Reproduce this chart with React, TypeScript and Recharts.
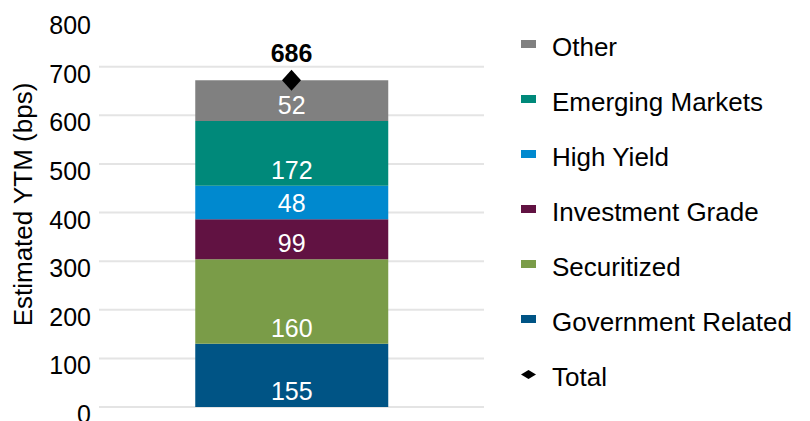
import React from 'react';
import { Bar, CartesianGrid, ComposedChart, LabelList, Legend, Line, XAxis, YAxis } from 'recharts';

const FONT = '"Liberation Sans", Arial, sans-serif';

// one stacked column; series listed bottom to top
const categories = ['Estimated YTM'];
const seriesNames = ['Government Related', 'Securitized', 'Investment Grade', 'High Yield', 'Emerging Markets', 'Other'];
const seriesColors = ['#005485', '#7a9c48', '#611242', '#0089cf', '#00897a', '#808080'];
// segment heights as drawn in the picture (bps)
const segmentHeights = [130, 174, 82, 69, 133, 84];
// numbers printed on the segments
const segmentLabels = [155, 160, 99, 48, 172, 52];
const totalHeight = [672];
const totalLabel = [686];
const yTicks = [0, 100, 200, 300, 400, 500, 600, 700, 800];
const gridTicks = [0, 100, 200, 300, 400, 500, 600, 700];

const data = categories.map((name, c) => {
  const row: Record<string, string | number> = { name, total: totalHeight[c], totalLabel: totalLabel[c] };
  seriesNames.forEach((_, i) => {
    row[`s${i}`] = segmentHeights[i];
    row[`l${i}`] = segmentLabels[i];
  });
  return row;
});

const renderYTick = (p: any) => (
  <text x={p.x} y={p.y + 16} textAnchor="end" fill="#000" fontSize={25} fontFamily={FONT}>
    {p.payload.value}
  </text>
);

const renderYTitle = (p: any) => {
  const vb = p.viewBox || { y: 18, height: 389 };
  const cy = vb.y + vb.height / 2 - 8;
  return (
    <text x={32} y={cy} transform={`rotate(-90 32 ${cy})`} textAnchor="middle" fill="#000" fontSize={26} fontFamily={FONT}>
      Estimated YTM (bps)
    </text>
  );
};

const renderSegmentLabel = (p: any) => (
  <text x={p.x + p.width / 2} y={p.y + p.height - 7} textAnchor="middle" fill="#fff" fontSize={25} fontFamily={FONT}>
    {p.value}
  </text>
);

const renderTotalLabel = (p: any) => (
  <text x={p.x} y={p.y - 18} textAnchor="middle" fill="#000" fontSize={25} fontWeight="bold" fontFamily={FONT}>
    {p.value}
  </text>
);

const Diamond = (p: any) => {
  if (p.cx == null || p.cy == null) return null;
  const { cx, cy } = p;
  return <polygon key={p.key} points={`${cx},${cy - 10.5} ${cx + 9.5},${cy} ${cx},${cy + 10.5} ${cx - 9.5},${cy}`} fill="#000" />;
};

const legendItems = [
  ...seriesNames.map((name, i) => ({ name, color: seriesColors[i], diamond: false })).reverse(),
  { name: 'Total', color: '#000', diamond: true },
];

const LegendContent = () => (
  <div style={{ fontFamily: FONT, fontSize: 26, color: '#000' }}>
    {legendItems.map((it) => (
      <div key={it.name} style={{ position: 'relative', height: 55, lineHeight: '55px', paddingLeft: 31, whiteSpace: 'nowrap' }}>
        {it.diamond ? (
          <svg width={15} height={9} style={{ position: 'absolute', left: 0, top: 20 }}>
            <polygon points="7.5,0 15,4.5 7.5,9 0,4.5" fill="#000" />
          </svg>
        ) : (
          <span style={{ position: 'absolute', left: 0, top: 20, width: 15, height: 8, background: it.color }} />
        )}
        {it.name}
      </div>
    ))}
  </div>
);

export default function App() {
  return (
    <div style={{ position: 'absolute', left: 0, top: 0, width: 810, height: 421, background: '#fff' }}>
      <ComposedChart
        width={810}
        height={421}
        data={data}
        margin={{ top: 18, right: 326, bottom: 14, left: 0 }}
        barCategoryGap="25%"
      >
        <CartesianGrid
          vertical={false}
          stroke="#e4e4e4"
          strokeWidth={2}
          horizontalCoordinatesGenerator={({ yAxis, offset }: any) =>
            typeof yAxis?.scale === 'function'
              ? gridTicks.map((v) => yAxis.scale(v))
              : gridTicks.map((v) => offset.top + offset.height * (1 - v / 800))
          }
        />
        <XAxis dataKey="name" hide />
        <YAxis
          width={99}
          domain={[0, 800]}
          ticks={yTicks}
          interval={0}
          axisLine={false}
          tickLine={false}
          tick={renderYTick}
          label={{ content: renderYTitle }}
        />
        {seriesNames.map((name, i) => (
          <Bar key={name} name={name} dataKey={`s${i}`} stackId="ytm" fill={seriesColors[i]} isAnimationActive={false}>
            <LabelList dataKey={`l${i}`} content={renderSegmentLabel} />
          </Bar>
        ))}
        <Line
          name="Total"
          dataKey="total"
          stroke="none"
          dot={Diamond}
          activeDot={false}
          isAnimationActive={false}
        >
          <LabelList dataKey="totalLabel" content={renderTotalLabel} />
        </Line>
        <Legend
          layout="horizontal"
          verticalAlign="middle"
          content={LegendContent}
          wrapperStyle={{ left: 521, top: 20, width: 289 }}
        />
      </ComposedChart>
    </div>
  );
}
